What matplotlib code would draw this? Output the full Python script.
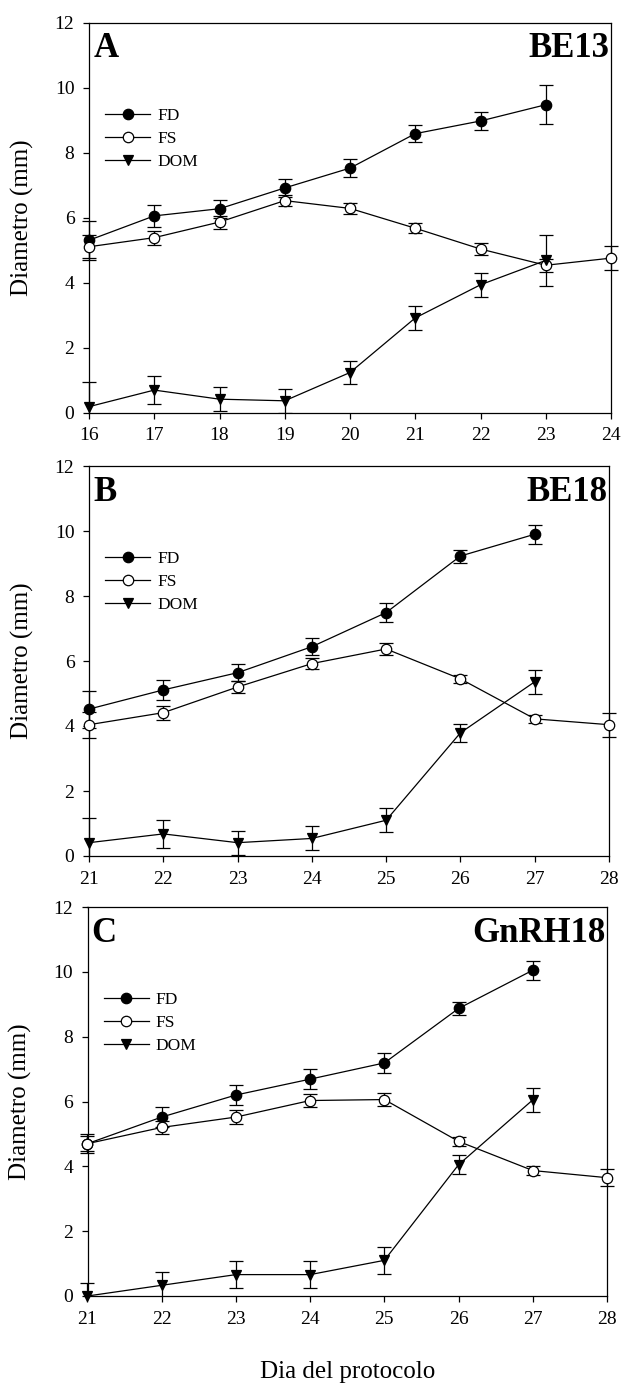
import numpy as np
import matplotlib
matplotlib.use("Agg")
import matplotlib.pyplot as plt
from matplotlib.patches import Rectangle

plt.rcParams['font.family'] = ['Liberation Serif', 'DejaVu Serif']

# panel A - BE13, dias 16 a 24
dias_a = [16, 17, 18, 19, 20, 21, 22, 23, 24]
fd_a = [5.30, 6.05, 6.27, 6.91, 7.52, 8.58, 8.97, 9.47]
fd_a_err = [0.60, 0.33, 0.27, 0.27, 0.27, 0.27, 0.28, 0.60]
fs_a = [5.10, 5.38, 5.86, 6.52, 6.28, 5.67, 5.03, 4.53, 4.75]
fs_a_err = [0.35, 0.22, 0.20, 0.17, 0.17, 0.16, 0.18, 0.20, 0.38]
dom_a = [0.18, 0.69, 0.41, 0.36, 1.23, 2.91, 3.93, 4.68]
dom_a_err = [0.76, 0.43, 0.37, 0.37, 0.36, 0.37, 0.37, 0.78]

# panel B - BE18, dias 21 a 28
dias_b = [21, 22, 23, 24, 25, 26, 27, 28]
fd_b = [4.52, 5.11, 5.64, 6.44, 7.49, 9.23, 9.90]
fd_b_err = [0.57, 0.32, 0.26, 0.26, 0.29, 0.20, 0.29]
fs_b = [4.04, 4.41, 5.20, 5.92, 6.37, 5.45, 4.22, 4.04]
fs_b_err = [0.40, 0.21, 0.18, 0.17, 0.19, 0.13, 0.13, 0.37]
dom_b = [0.41, 0.68, 0.41, 0.54, 1.10, 3.79, 5.36]
dom_b_err = [0.76, 0.43, 0.37, 0.37, 0.37, 0.27, 0.37]

# panel C - GnRH18, dias 21 a 28
dias_c = [21, 22, 23, 24, 25, 26, 27, 28]
fd_c = [4.70, 5.52, 6.20, 6.69, 7.19, 8.87, 10.05]
fd_c_err = [0.30, 0.30, 0.30, 0.30, 0.32, 0.20, 0.29]
fs_c = [4.70, 5.20, 5.52, 6.03, 6.06, 4.77, 3.87, 3.65]
fs_c_err = [0.23, 0.20, 0.21, 0.20, 0.20, 0.14, 0.14, 0.26]
dom_c = [0.00, 0.33, 0.66, 0.66, 1.10, 4.05, 6.05]
dom_c_err = [0.41, 0.41, 0.41, 0.41, 0.41, 0.30, 0.36]

paneles = [
    ("A", "BE13", dias_a, fd_a, fd_a_err, fs_a, fs_a_err, dom_a, dom_a_err),
    ("B", "BE18", dias_b, fd_b, fd_b_err, fs_b, fs_b_err, dom_b, dom_b_err),
    ("C", "GnRH18", dias_c, fd_c, fd_c_err, fs_c, fs_c_err, dom_c, dom_c_err),
]

W, H = 622, 1383
fig = plt.figure(figsize=(W / 100, H / 100), dpi=100)

# pixel box of each panel: left, top, right, bottom
cajas = [(89, 22.5, 611, 412.5), (89, 466, 609, 856), (87.5, 907, 607, 1296)]

lw = 0.9


def serie(ax, x, y, e, marker, mfc, label, clip):
    # error bars cut at y=0 but free to cross the side spines
    eb = ax.errorbar(x, y, yerr=e, fmt="none", ecolor="black", elinewidth=lw,
                     capsize=5, capthick=lw, zorder=2)
    for art in eb.lines[1] + eb.lines[2]:
        art.set_clip_path(clip)
    ax.plot(x, y, color="black", lw=lw, marker=marker, ms=7.5, mfc=mfc,
            mec="black", mew=lw, label=label, zorder=3, clip_on=False)


for (letra, grupo, dias, fd, fd_e, fs, fs_e, dom, dom_e), (l, t, r, b) in zip(paneles, cajas):
    ax = fig.add_axes([l / W, 1 - b / H, (r - l) / W, (b - t) / H])
    ax.set_xlim(dias[0], dias[-1])
    ax.set_ylim(0, 12)
    clip = Rectangle((dias[0] - 1, 0), len(dias) + 1, 13, transform=ax.transData)

    serie(ax, dias[:len(fd)], fd, fd_e, "o", "black", "FD", clip)
    serie(ax, dias[:len(fs)], fs, fs_e, "o", "white", "FS", clip)
    serie(ax, dias[:len(dom)], dom, dom_e, "v", "black", "DOM", clip)

    ax.set_xticks(dias)
    ax.set_yticks(np.arange(0, 13, 2))
    ax.tick_params(direction="out", length=4.5, width=lw, labelsize=14, pad=6)
    for s in ax.spines.values():
        s.set_linewidth(lw)
    ax.set_ylabel("Diametro (mm)", fontsize=18, labelpad=15)

    ax.text(0.008, 0.975, letra, transform=ax.transAxes, ha="left", va="top",
            fontsize=25, fontweight="bold")
    ax.text(0.997, 0.975, grupo, transform=ax.transAxes, ha="right", va="top",
            fontsize=25, fontweight="bold")

    ax.legend(loc="upper left", bbox_to_anchor=(0.018, 0.80), frameon=False,
              fontsize=12.5, handlelength=2.6, handletextpad=0.4,
              labelspacing=0.4, borderaxespad=0)

ax.set_xlabel("Dia del protocolo", fontsize=18, labelpad=24)

fig.savefig("out.png", dpi=100)
